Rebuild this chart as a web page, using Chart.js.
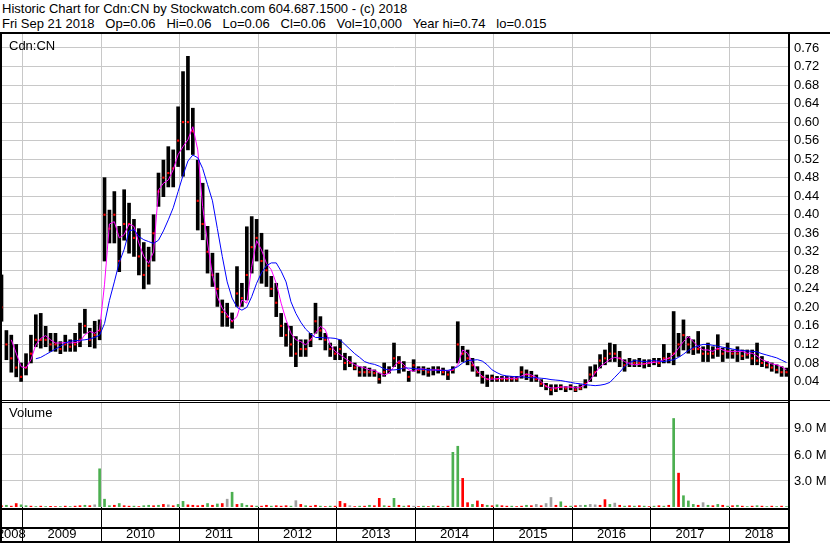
<!DOCTYPE html>
<html>
<head>
<meta charset="utf-8">
<script src="https://cdn.jsdelivr.net/npm/chart.js@4.4.0/dist/chart.umd.min.js"></script>
<style>
  body { margin: 0; background: #fff; width: 830px; height: 543px; overflow: hidden; position: relative;
         font-family: "Liberation Sans", Arial, sans-serif; font-size: 13px; color: #000; }
  .abs { position: absolute; }
  .txt { position: absolute; white-space: pre; line-height: 15px; }
  .ln { position: absolute; background: #000; }
</style>
</head>
<body>
<div class="txt" style="left:2px;top:1px">Historic Chart for Cdn:CN by Stockwatch.com 604.687.1500 - (c) 2018</div>
<div class="txt" style="left:2px;top:16px">Fri Sep 21 2018   Op=0.06   Hi=0.06   Lo=0.06   Cl=0.06   Vol=10,000   Year hi=0.74   lo=0.015</div>

<canvas id="graficoPreco" class="abs" style="left:0;top:34px" width="830" height="366"></canvas>
<canvas id="graficoVolume" class="abs" style="left:0;top:402px" width="830" height="141"></canvas>

<div class="txt" style="left:9px;top:38px">Cdn:CN</div>
<div class="txt" style="left:9px;top:405px">Volume</div>

<!-- moldura -->
<div class="ln" style="left:0;top:32px;width:830px;height:2px"></div>
<div class="ln" style="left:0;top:32px;width:2px;height:511px"></div>
<div class="ln" style="left:788px;top:32px;width:2px;height:511px"></div>
<div class="ln" style="left:0;top:400px;width:830px;height:1px"></div>
<div class="ln" style="left:0;top:402px;width:790px;height:1px"></div>
<div class="ln" style="left:0;top:508px;width:790px;height:2px"></div>
<div class="ln" style="left:0;top:527px;width:790px;height:2px"></div>
<div class="ln" style="left:0;top:541px;width:790px;height:2px"></div>

<script>
// amostras a cada 1/16 de ano, a partir de 2008.73
const inicio = 2008.73;
const passo = 1 / 16;

const maximas = [
  0.27, 0.15, 0.14, 0.12, 0.08, 0.10, 0.14, 0.184, 0.187, 0.159,
  0.144, 0.144, 0.126, 0.14, 0.13, 0.144, 0.166, 0.196, 0.155, 0.17,
  0.173, 0.48, 0.41, 0.45, 0.375, 0.454, 0.425, 0.39, 0.37, 0.34,
  0.33, 0.40, 0.49, 0.518, 0.547, 0.54, 0.633, 0.709, 0.742, 0.63,
  0.518, 0.468, 0.375, 0.317, 0.274, 0.216, 0.209, 0.188, 0.288, 0.252,
  0.374, 0.396, 0.39, 0.36, 0.324, 0.267, 0.252, 0.187, 0.166, 0.159,
  0.137, 0.13, 0.13, 0.144, 0.209, 0.18, 0.144, 0.123, 0.115, 0.13,
  0.101, 0.094, 0.08, 0.072, 0.072, 0.069, 0.065, 0.058, 0.08, 0.072,
  0.123, 0.094, 0.083, 0.062, 0.087, 0.072, 0.072, 0.069, 0.072, 0.072,
  0.069, 0.062, 0.072, 0.169, 0.116, 0.108, 0.09, 0.072, 0.062, 0.054,
  0.054, 0.051, 0.051, 0.051, 0.051, 0.051, 0.072, 0.065, 0.062, 0.054,
  0.044, 0.036, 0.033, 0.033, 0.033, 0.029, 0.033, 0.029, 0.033, 0.044,
  0.072, 0.076, 0.098, 0.108, 0.123, 0.12, 0.105, 0.087, 0.09, 0.087,
  0.09, 0.087, 0.087, 0.09, 0.09, 0.12, 0.101, 0.191, 0.144, 0.173,
  0.137, 0.13, 0.148, 0.115, 0.123, 0.115, 0.141, 0.112, 0.123, 0.108,
  0.115, 0.108, 0.108, 0.108, 0.123, 0.094, 0.083, 0.08, 0.076, 0.072,
  0.069
];

const minimas = [
  0.17, 0.087, 0.06, 0.05, 0.04, 0.054, 0.08, 0.115, 0.112, 0.115,
  0.105, 0.105, 0.10, 0.105, 0.105, 0.105, 0.115, 0.144, 0.115, 0.112,
  0.13, 0.30, 0.339, 0.339, 0.277, 0.345, 0.317, 0.31, 0.27, 0.24,
  0.25, 0.30, 0.418, 0.439, 0.46, 0.46, 0.504, 0.483, 0.54, 0.53,
  0.367, 0.346, 0.274, 0.245, 0.202, 0.159, 0.159, 0.155, 0.202, 0.202,
  0.216, 0.274, 0.30, 0.252, 0.245, 0.223, 0.18, 0.137, 0.116, 0.094,
  0.072, 0.094, 0.094, 0.115, 0.144, 0.13, 0.108, 0.094, 0.087, 0.087,
  0.065, 0.072, 0.065, 0.051, 0.051, 0.051, 0.051, 0.036, 0.051, 0.058,
  0.072, 0.058, 0.062, 0.04, 0.062, 0.058, 0.054, 0.051, 0.054, 0.058,
  0.054, 0.044, 0.058, 0.08, 0.083, 0.076, 0.062, 0.051, 0.036, 0.029,
  0.04, 0.04, 0.04, 0.04, 0.04, 0.04, 0.047, 0.044, 0.04, 0.04,
  0.029, 0.022, 0.011, 0.018, 0.022, 0.018, 0.022, 0.018, 0.022, 0.026,
  0.04, 0.051, 0.069, 0.076, 0.083, 0.083, 0.072, 0.062, 0.072, 0.072,
  0.072, 0.069, 0.072, 0.076, 0.072, 0.08, 0.08, 0.076, 0.094, 0.108,
  0.101, 0.098, 0.101, 0.083, 0.083, 0.09, 0.094, 0.083, 0.09, 0.09,
  0.083, 0.087, 0.09, 0.076, 0.076, 0.072, 0.069, 0.062, 0.058, 0.051,
  0.051
];

const fechamentos = [
  0.20, 0.12, 0.09, 0.07, 0.05, 0.07, 0.10, 0.13, 0.13, 0.13,
  0.12, 0.12, 0.11, 0.12, 0.115, 0.12, 0.13, 0.16, 0.13, 0.14,
  0.15, 0.40, 0.37, 0.40, 0.30, 0.38, 0.38, 0.35, 0.31, 0.27,
  0.29, 0.36, 0.45, 0.48, 0.49, 0.50, 0.56, 0.60, 0.60, 0.58,
  0.43, 0.38, 0.32, 0.27, 0.24, 0.19, 0.18, 0.17, 0.23, 0.22,
  0.27, 0.33, 0.35, 0.30, 0.28, 0.24, 0.21, 0.16, 0.14, 0.12,
  0.10, 0.11, 0.11, 0.13, 0.17, 0.15, 0.13, 0.11, 0.10, 0.11,
  0.08, 0.08, 0.07, 0.06, 0.06, 0.06, 0.058, 0.045, 0.06, 0.065,
  0.09, 0.08, 0.07, 0.05, 0.075, 0.065, 0.065, 0.06, 0.065, 0.065,
  0.06, 0.055, 0.065, 0.12, 0.10, 0.09, 0.075, 0.06, 0.05, 0.045,
  0.048, 0.045, 0.045, 0.045, 0.045, 0.045, 0.06, 0.055, 0.05, 0.045,
  0.035, 0.03, 0.022, 0.025, 0.028, 0.025, 0.028, 0.022, 0.025, 0.035,
  0.055, 0.06, 0.085, 0.09, 0.10, 0.10, 0.09, 0.075, 0.08, 0.08,
  0.08, 0.078, 0.08, 0.083, 0.08, 0.09, 0.09, 0.10, 0.12, 0.14,
  0.12, 0.11, 0.11, 0.10, 0.10, 0.10, 0.11, 0.10, 0.105, 0.10,
  0.10, 0.095, 0.098, 0.09, 0.085, 0.08, 0.075, 0.07, 0.065, 0.06,
  0.06
];

// media curta (rosa)
const mediaCurta = [
  null, null, 0.13, 0.101, 0.072, 0.069, 0.087, 0.119, 0.133, 0.139,
  0.13, 0.123, 0.123, 0.124, 0.123, 0.124, 0.126, 0.141, 0.148, 0.144,
  0.152, 0.25, 0.38, 0.385, 0.35, 0.357, 0.38, 0.375, 0.339, 0.31,
  0.295, 0.32, 0.453, 0.468, 0.475, 0.497, 0.53, 0.547, 0.562, 0.59,
  0.54, 0.418, 0.339, 0.27, 0.223, 0.198, 0.184, 0.17, 0.18, 0.216,
  0.209, 0.288, 0.344, 0.324, 0.295, 0.281, 0.252, 0.209, 0.173, 0.144,
  0.13, 0.126, 0.119, 0.13, 0.144, 0.159, 0.152, 0.119, 0.105, 0.098,
  0.09, 0.083, 0.076, 0.072, 0.069, 0.065, 0.064, 0.058, 0.054, 0.058,
  0.072, 0.085, 0.076, 0.065, 0.062, 0.067, 0.067, 0.065, 0.065, 0.065,
  0.064, 0.063, 0.065, 0.076, 0.108, 0.101, 0.08, 0.062, 0.051, 0.045,
  0.045, 0.046, 0.047, 0.047, 0.047, 0.047, 0.052, 0.056, 0.054, 0.049,
  0.04, 0.029, 0.026, 0.026, 0.028, 0.028, 0.028, 0.026, 0.028, 0.033,
  0.044, 0.058, 0.072, 0.08, 0.088, 0.092, 0.09, 0.083, 0.078, 0.076,
  0.077, 0.078, 0.08, 0.081, 0.083, 0.087, 0.09, 0.098, 0.112, 0.126,
  0.137, 0.126, 0.115, 0.108, 0.108, 0.105, 0.112, 0.108, 0.105, 0.105,
  0.105, 0.105, 0.101, 0.101, 0.095, 0.087, 0.083, 0.078, 0.076, 0.072,
  0.065
];

// media longa (azul)
const mediaLonga = [
  null, null, null, null, null, null, null, 0.089, 0.092, 0.098,
  0.104, 0.11, 0.116, 0.123, 0.127, 0.128, 0.129, 0.13, 0.132, 0.135,
  0.14, 0.165, 0.215, 0.255, 0.297, 0.325, 0.365, 0.368, 0.353, 0.346,
  0.342, 0.338, 0.345, 0.365, 0.389, 0.415, 0.45, 0.485, 0.516, 0.529,
  0.523, 0.5, 0.465, 0.43, 0.37, 0.31, 0.255, 0.22, 0.2, 0.194,
  0.2, 0.223, 0.252, 0.275, 0.29, 0.296, 0.296, 0.278, 0.255, 0.212,
  0.187, 0.168, 0.153, 0.143, 0.135, 0.135, 0.134, 0.134, 0.133, 0.13,
  0.12, 0.11, 0.1, 0.092, 0.083, 0.079, 0.077, 0.073, 0.067, 0.065,
  0.065, 0.066, 0.069, 0.069, 0.068, 0.067, 0.066, 0.065, 0.065, 0.064,
  0.064, 0.064, 0.067, 0.072, 0.08, 0.085, 0.086, 0.087, 0.084, 0.076,
  0.065, 0.059, 0.054, 0.052, 0.051, 0.05, 0.05, 0.049, 0.048, 0.048,
  0.047, 0.046, 0.044, 0.043, 0.042, 0.04, 0.038, 0.036, 0.035, 0.033,
  0.032, 0.031, 0.032, 0.034, 0.038, 0.049, 0.06, 0.072, 0.081, 0.085,
  0.084, 0.083, 0.084, 0.085, 0.084, 0.083, 0.085, 0.087, 0.092, 0.099,
  0.107, 0.113, 0.117, 0.12, 0.12, 0.118, 0.116, 0.114, 0.112, 0.11,
  0.108, 0.107, 0.106, 0.105, 0.104, 0.1, 0.097, 0.094, 0.091, 0.086,
  0.081
];

// volume em milhoes
const volumes = [
  0.15, 0.2, 0.1, 0.4, 0.25, 0.15, 0.1, 0.05, 0.1, 0.05,
  0.08, 0.05, 0.05, 0.1, 0.05, 0.1, 0.15, 0.2, 0.15, 0.25,
  4.4, 0.9, 0.15, 0.2, 0.4, 0.15, 0.1, 0.1, 0.05, 0.15,
  0.2, 0.15, 0.2, 0.3, 0.25, 0.15, 0.3, 0.65, 0.25, 0.2,
  0.15, 0.2, 0.4, 0.2, 0.35, 0.4, 0.9, 1.7, 0.3, 0.4,
  0.2, 0.15, 0.1, 0.1, 0.2, 0.1, 0.15, 0.1, 0.15, 0.1,
  0.73, 0.3, 0.15, 0.1, 0.2, 0.1, 0.05, 0.1, 0.1, 0.65,
  0.4, 0.15, 0.05, 0.1, 0.1, 0.2, 0.15, 1.0, 0.15, 0.1,
  1.0, 0.2, 0.1, 0.15, 0.1, 0.05, 0.1, 0.05, 0.15, 0.1,
  0.05, 0.1, 6.3, 7.0, 3.3, 0.5, 0.3, 0.7, 0.3, 0.2,
  0.15, 0.25, 0.15, 0.1, 0.1, 0.05, 0.1, 0.2, 0.15, 0.3,
  0.15, 0.4, 1.1, 0.2, 0.6, 0.1, 0.1, 0.15, 0.2, 0.2,
  0.3, 0.25, 0.2, 0.85, 0.3, 0.45, 0.2, 0.1, 0.15, 0.1,
  0.15, 0.1, 0.05, 0.1, 0.15, 0.1, 0.2, 10.2, 3.9, 1.3,
  0.7, 0.3, 0.2, 0.5, 0.2, 0.15, 0.3, 0.2, 0.1, 0.15,
  0.2, 0.1, 0.05, 0.1, 0.15, 0.1, 0.05, 0.1, 0.05, 0.1,
  0.05
];
// g = alta, r = baixa, x = sem variacao
const tipoVolume =
  "rgrrggrgrg" + "rrgrgrrgrx" + "gggrgrrgrg" + "grgrxrggrr" + "rrgrgrxgrg" +
  "grgrrgrrrg" + "xrgrrgrgrr" + "rxrgrgrrgr" + "grgrxrgrgr" + "grggrrgrrg" +
  "rgrrgrrgrx" + "rxxrgrgrxg" + "xxrrgxrgrg" + "rgrgrgrgrg" + "ggrxgrgrgr" +
  "grgrgrgrgr" + "g";

const anos = [2009, 2010, 2011, 2012, 2013, 2014, 2015, 2016, 2017, 2018];
const ticksPreco = [0.04, 0.08, 0.12, 0.16, 0.20, 0.24, 0.28, 0.32, 0.36, 0.40,
                    0.44, 0.48, 0.52, 0.56, 0.60, 0.64, 0.68, 0.72, 0.76];
const ticksVolume = [3, 6, 9];

const limiteEsq = 2008.711;
const limiteDir = 2018.762;
const datas = maximas.map((_, i) => inicio + i * passo);

const fonte = { family: "Liberation Sans", size: 13 };
const corGrade = "#c8c8c8";
const coresVol = { g: "#4caf50", r: "#ff0000", x: "#a0a0a0" };

function semPadding(escala) {
  escala.paddingLeft = 0;
  escala.paddingRight = 0;
  escala.paddingTop = 0;
  escala.paddingBottom = 0;
}

function eixoX(extra) {
  return Object.assign({
    type: "linear",
    min: limiteEsq,
    max: limiteDir,
    offset: false,
    border: { display: false },
    grid: { color: corGrade, offset: false, drawTicks: false },
    ticks: { display: false },
    afterBuildTicks: escala => { escala.ticks = anos.map(a => ({ value: a })); },
    afterFit: escala => { escala.height = 0; semPadding(escala); }
  }, extra || {});
}

function eixoY(max, ticks, rotulo) {
  return {
    position: "right",
    min: 0,
    max: max,
    border: { display: false },
    grid: { color: corGrade, drawTicks: false },
    ticks: { font: fonte, color: "#000", padding: 5, callback: rotulo },
    afterBuildTicks: escala => { escala.ticks = ticks.map(v => ({ value: v })); },
    afterFit: escala => { escala.width = 41; semPadding(escala); }
  };
}

const opcoesBase = {
  responsive: false,
  animation: false,
  events: [],
  layout: { padding: 0, autoPadding: false },
  plugins: { legend: { display: false }, tooltip: { enabled: false } }
};

const graficoPreco = new Chart(document.getElementById("graficoPreco"), {
  type: "bar",
  data: {
    datasets: [
      {
        type: "line",
        data: datas.map((x, i) => ({ x: x, y: mediaLonga[i] })),
        borderColor: "#0000ff",
        borderWidth: 1,
        pointRadius: 0,
        order: 1
      },
      {
        type: "line",
        data: datas.map((x, i) => ({ x: x, y: mediaCurta[i] })),
        borderColor: "#ff00ff",
        borderWidth: 1,
        pointRadius: 0,
        order: 2
      },
      {
        type: "line",
        data: datas.map((x, i) => ({ x: x, y: fechamentos[i] })),
        showLine: false,
        pointStyle: "rect",
        pointRadius: 1.5,
        pointBorderWidth: 0,
        pointBackgroundColor: "#ff0000",
        order: 3
      },
      {
        type: "bar",
        data: datas.map((x, i) => ({ x: x, y: [minimas[i], maximas[i]] })),
        backgroundColor: "#000",
        barThickness: 3,
        order: 4
      }
    ]
  },
  options: Object.assign({}, opcoesBase, {
    scales: {
      x: eixoX(),
      y: eixoY(0.7902, ticksPreco, v => v.toFixed(2))
    }
  })
});

// eixo de datas: linhas nos anos, rotulos no meio de cada ano visivel
const meiosAnos = [limiteEsq].concat(anos).map((a, i, lista) => {
  const fim = i + 1 < lista.length ? lista[i + 1] : limiteDir;
  return (a + fim) / 2;
});

const graficoVolume = new Chart(document.getElementById("graficoVolume"), {
  type: "bar",
  data: {
    datasets: [{
      data: datas.map((x, i) => ({ x: x, y: volumes[i] })),
      backgroundColor: volumes.map((_, i) => coresVol[tipoVolume[i]]),
      barThickness: 2
    }]
  },
  options: Object.assign({}, opcoesBase, {
    scales: {
      x: eixoX({
        grid: {
          offset: false,
          drawTicks: true,
          tickLength: 36,
          color: ctx => Number.isInteger(ctx.tick.value) ? corGrade : "rgba(0,0,0,0)",
          tickColor: ctx => Number.isInteger(ctx.tick.value) ? "#000" : "rgba(0,0,0,0)"
        },
        ticks: {
          display: true,
          autoSkip: false,
          maxRotation: 0,
          font: fonte,
          color: "#000",
          padding: -16,
          callback: v => Number.isInteger(v) ? "" : String(Math.floor(v))
        },
        afterBuildTicks: escala => {
          escala.ticks = anos.concat(meiosAnos).sort((a, b) => a - b).map(v => ({ value: v }));
        },
        afterFit: escala => { escala.height = 36; semPadding(escala); }
      }),
      y: eixoY(12.1, ticksVolume, v => v.toFixed(1) + " M")
    }
  })
});
</script>
</body>
</html>
